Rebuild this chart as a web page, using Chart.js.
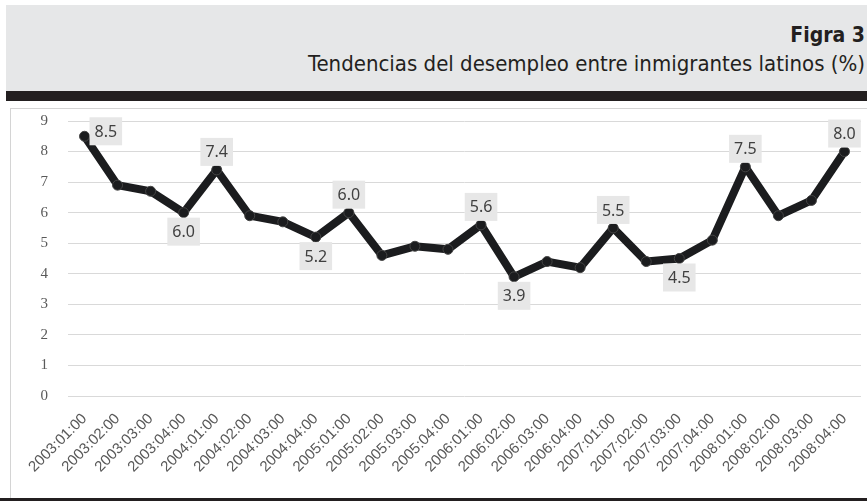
<!DOCTYPE html>
<html>
<head>
<meta charset="utf-8">
<script src="https://cdn.jsdelivr.net/npm/chart.js@4"></script>
<style>
  body { margin: 0; width: 867px; height: 501px; background: #fff; position: relative; overflow: hidden; }
  .cabecera { position: absolute; left: 6px; top: 5px; right: 0; height: 86px; background: #e6e7e8; }
  .fig { position: absolute; right: 2px; top: 18px; font: bold 21px "DejaVu Sans Condensed", "DejaVu Sans"; color: #231f20; }
  .sub { position: absolute; right: 2px; top: 46px; font: 22px "DejaVu Sans Condensed", "DejaVu Sans"; color: #231f20; white-space: nowrap; }
  .barra { position: absolute; left: 6px; right: 0; top: 91px; height: 10px; background: #231f20; }
  .caja { position: absolute; left: 10px; top: 108px; width: 857px; height: 390px; box-sizing: border-box;
          border-left: 1px solid #d4d4d4; border-top: 1px solid #d4d4d4; }
  .pie { position: absolute; left: 0; right: 0; top: 498px; height: 3px; background: #231f20; }
</style>
</head>
<body>
<div class="cabecera">
  <div class="fig">Figra 3</div>
  <div class="sub">Tendencias del desempleo entre inmigrantes latinos (%)</div>
</div>
<div class="barra"></div>
<div class="caja"><canvas id="grafico"></canvas></div>
<div class="pie"></div>

<script>
// ***** datos *****
var trimestres = ['2003:01:00', '2003:02:00', '2003:03:00', '2003:04:00',
                  '2004:01:00', '2004:02:00', '2004:03:00', '2004:04:00',
                  '2005:01:00', '2005:02:00', '2005:03:00', '2005:04:00',
                  '2006:01:00', '2006:02:00', '2006:03:00', '2006:04:00',
                  '2007:01:00', '2007:02:00', '2007:03:00', '2007:04:00',
                  '2008:01:00', '2008:02:00', '2008:03:00', '2008:04:00'];
var desempleo = [8.5, 6.9, 6.7, 6.0, 7.4, 5.9, 5.7, 5.2, 6.0, 4.6, 4.9, 4.8,
                 5.6, 3.9, 4.4, 4.2, 5.5, 4.4, 4.5, 5.1, 7.5, 5.9, 6.4, 8.0];
var marcasY = [0, 1, 2, 3, 4, 5, 6, 7, 8, 9];

// ***** etiquetas con fondo gris (solo algunos puntos) *****
var lugarEtiqueta = {0: 'derecha', 3: 'abajo', 4: 'arriba', 7: 'abajo', 8: 'arriba',
                     12: 'arriba', 13: 'abajo', 16: 'arriba', 18: 'abajo', 20: 'arriba', 23: 'arriba'};

var etiquetas = {
    id: 'etiquetas',
    afterDatasetsDraw: function (chart) {
        var ctx = chart.ctx;
        var meta = chart.getDatasetMeta(0);
        ctx.save();
        ctx.font = '16px "Noto Sans"';
        ctx.textAlign = 'center';
        ctx.textBaseline = 'middle';
        meta.data.forEach(function (p, i) {
            var lugar = lugarEtiqueta[i];
            if (!lugar) return;
            var txt = desempleo[i].toFixed(1);
            var w = ctx.measureText(txt).width + 10, h = 28;
            var x = p.x - w / 2, y;
            if (lugar === 'arriba') y = p.y - 4 - h;
            else if (lugar === 'abajo') y = p.y + 5;
            else { x = p.x + 5; y = p.y - h / 2 - 5; }
            ctx.fillStyle = '#e7e7e7';
            ctx.fillRect(x, y, w, h);
            ctx.fillStyle = '#404040';
            ctx.fillText(txt, x + w / 2, y + h / 2 + 1);
        });
        ctx.restore();
    }
};

var ctx = document.getElementById('grafico').getContext('2d');
var chart = new Chart(ctx, {
    type: 'line',
    data: {
        labels: trimestres,
        datasets: [{
            data: desempleo,
            borderColor: '#1b1c1e',
            borderWidth: 8,
            pointRadius: 5,
            pointBackgroundColor: '#1b1c1e',
            pointBorderColor: '#444',
            pointBorderWidth: 1,
            tension: 0
        }]
    },
    options: {
        responsive: true,
        maintainAspectRatio: false,
        animation: false,
        layout: { padding: { top: 12, right: -6, left: 0, bottom: 0 } },
        plugins: { legend: { display: false }, tooltip: { enabled: false } },
        scales: {
            x: {
                offset: true,
                grid: { display: false, drawTicks: false },
                border: { display: false },
                ticks: {
                    minRotation: 45, maxRotation: 45, autoSkip: false, padding: 14,
                    color: '#595959', font: { family: '"Liberation Sans"', size: 15 }
                },
                afterFit: function (s) {
                    s.height = 102;
                    s.paddingLeft = 0; s.paddingRight = 0; s.paddingTop = 0; s.paddingBottom = 0;
                }
            },
            y: {
                min: 0, max: 9,
                afterBuildTicks: function (s) { s.ticks = marcasY.map(function (v) { return { value: v }; }); },
                grid: { color: '#d9d9d9', drawTicks: false },
                border: { display: false },
                ticks: {
                    padding: 20, color: '#595959',
                    font: { family: '"Liberation Serif"', size: 15 }
                },
                afterFit: function (s) {
                    s.width = 57;
                    s.paddingLeft = 0; s.paddingRight = 0; s.paddingTop = 0; s.paddingBottom = 0;
                }
            }
        }
    },
    plugins: [etiquetas]
});
</script>
</body>
</html>
